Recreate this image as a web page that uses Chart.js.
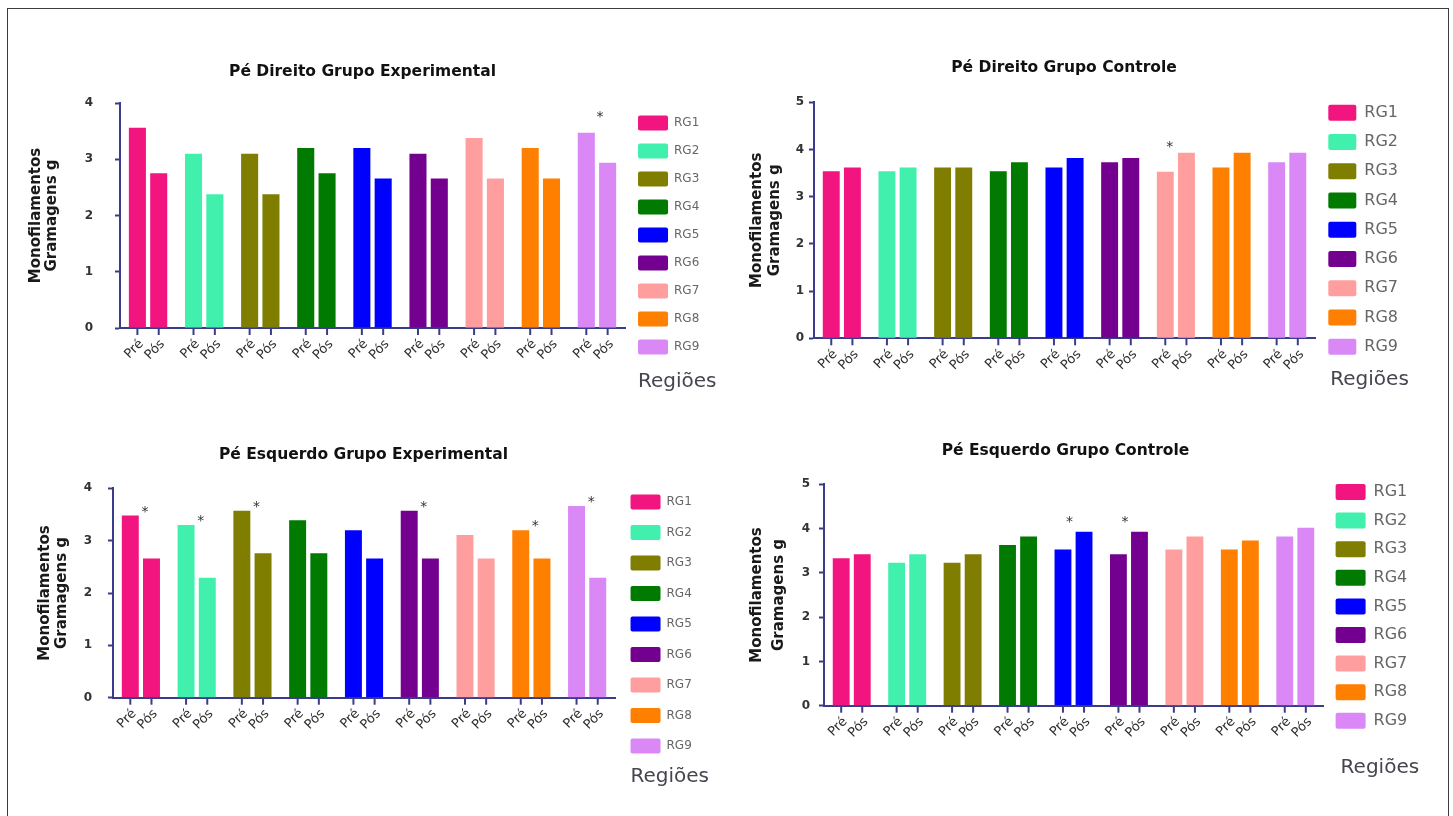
<!DOCTYPE html>
<html lang="pt">
<head>
<meta charset="utf-8">
<title>Monofilamentos por região</title>
<script src="https://cdn.jsdelivr.net/npm/chart.js@4.4.0/dist/chart.umd.min.js"></script>
<style>
  html, body { margin: 0; padding: 0; background: #fff; }
  body { width: 1453px; height: 816px; position: relative; overflow: hidden; }
  .moldura { position: absolute; left: 7px; top: 8px; width: 1442px; height: 830px; border: 1px solid #3c3c3c; box-sizing: border-box; }
  canvas { position: absolute; }
</style>
</head>
<body>
<div class="moldura"></div>
<canvas id="dirExp" width="710" height="350" style="left:15px;top:50px"></canvas>
<canvas id="dirCtrl" width="725" height="350" style="left:720px;top:50px"></canvas>
<canvas id="esqExp" width="700" height="370" style="left:25px;top:430px"></canvas>
<canvas id="esqCtrl" width="732" height="370" style="left:713px;top:430px"></canvas>
<script>
// categorias e rótulos
const regioes = ['RG1', 'RG2', 'RG3', 'RG4', 'RG5', 'RG6', 'RG7', 'RG8', 'RG9'];
const marcas = ['Pré', 'Pós'];
const tituloY = ['Monofilamentos', 'Gramagens g'];

// valores (gramas)
const dirExpPre  = [3.56, 3.10, 3.10, 3.20, 3.20, 3.10, 3.38, 3.20, 3.47];
const dirExpPos  = [2.75, 2.38, 2.38, 2.75, 2.66, 2.66, 2.66, 2.66, 2.94];
const dirCtrlPre = [3.54, 3.54, 3.62, 3.54, 3.62, 3.73, 3.53, 3.62, 3.73];
const dirCtrlPos = [3.62, 3.62, 3.62, 3.73, 3.82, 3.82, 3.93, 3.93, 3.93];
const esqExpPre  = [3.48, 3.30, 3.57, 3.39, 3.20, 3.57, 3.11, 3.20, 3.66];
const esqExpPos  = [2.66, 2.29, 2.76, 2.76, 2.66, 2.66, 2.66, 2.66, 2.29];
const esqCtrlPre = [3.33, 3.23, 3.23, 3.63, 3.53, 3.42, 3.53, 3.53, 3.82];
const esqCtrlPos = [3.42, 3.42, 3.42, 3.82, 3.93, 3.93, 3.82, 3.73, 4.02];

// regiões com diferença significativa (*)
const dirExpSig  = [8];
const dirCtrlSig = [6];
const esqExpSig  = [0, 1, 2, 5, 7, 8];
const esqCtrlSig = [4, 5];

const cores = ['#F2157F', '#42F0AE', '#807E00', '#007A00', '#0000FF', '#74008F', '#FF9E9E', '#FF7F00', '#DA88F6'];
const eixo = '#3A3C8A';

Chart.defaults.font.family = '"DejaVu Sans", sans-serif';

// traços e rótulos Pré/Pós sob cada barra, asteriscos e "Regiões"
const extras = {
    id: 'extras',
    afterDraw(chart, args, opts) {
        const ctx = chart.ctx;
        const xs = chart.scales.x;
        const pre = chart.getDatasetMeta(0).data;
        const pos = chart.getDatasetMeta(1).data;
        ctx.save();
        [pre, pos].forEach((barras, d) => {
            barras.forEach(b => {
                ctx.strokeStyle = eixo;
                ctx.lineWidth = 2;
                ctx.beginPath();
                ctx.moveTo(b.x, xs.top);
                ctx.lineTo(b.x, xs.top + 7);
                ctx.stroke();
                ctx.save();
                ctx.translate(b.x + 4, xs.top + 14);
                ctx.rotate(-Math.PI / 4);
                ctx.font = '13px "DejaVu Sans"';
                ctx.fillStyle = '#2e2e2e';
                ctx.textAlign = 'right';
                ctx.textBaseline = 'middle';
                ctx.fillText(marcas[d], 0, 0);
                ctx.restore();
            });
        });
        ctx.font = '14px "DejaVu Sans"';
        ctx.fillStyle = '#333';
        ctx.textAlign = 'center';
        ctx.textBaseline = 'alphabetic';
        opts.estrelas.forEach(i => {
            const x = (pre[i].x + pos[i].x) / 2 + opts.dxEstrela;
            ctx.fillText('*', x, Math.min(pre[i].y, pos[i].y) - opts.dyEstrela);
        });
        const caixas = chart.legend.legendHitBoxes;
        const ult = caixas[caixas.length - 1];
        ctx.font = opts.fonteRegioes + 'px "DejaVu Sans"';
        ctx.fillStyle = '#45454f';
        ctx.textAlign = 'left';
        ctx.textBaseline = 'middle';
        ctx.fillText('Regiões', ult.left + opts.dxRegioes, ult.top + ult.height / 2 + opts.dyRegioes);
        ctx.restore();
    }
};

function grafico(id, titulo, pre, pos, estrelas, yMax, c) {
    const serie = (nome, valores) => ({
        label: nome, data: valores, backgroundColor: cores, borderWidth: 0,
        categoryPercentage: 0.76, barPercentage: 0.8
    });
    return new Chart(document.getElementById(id), {
        type: 'bar',
        data: { labels: regioes, datasets: [serie(marcas[0], pre), serie(marcas[1], pos)] },
        options: {
            responsive: false, animation: false, events: [],
            layout: { padding: { left: c.padL, right: c.padR, top: 0, bottom: 0 } },
            plugins: {
                title: {
                    display: true, text: titulo, color: '#111',
                    font: { size: 15.5, weight: 'bold', lineHeight: 1.2 },
                    padding: { top: c.tTop, bottom: c.tBot }
                },
                legend: {
                    position: 'right', align: 'start',
                    // título vazio só para empurrar os itens para baixo
                    title: { display: true, text: '', font: { size: 1, lineHeight: 1 }, padding: { top: c.legTop - 1, bottom: 0 } },
                    labels: {
                        boxWidth: c.box[0], boxHeight: c.box[1], padding: c.legPad,
                        color: '#1f1f1f', font: { size: c.legFont },
                        useBorderRadius: true, borderRadius: 2,
                        generateLabels: () => regioes.map((r, i) => ({
                            text: r, fillStyle: cores[i], strokeStyle: cores[i], lineWidth: 0,
                            borderRadius: 2, hidden: false, index: i
                        }))
                    }
                },
                tooltip: { enabled: false },
                extras: {
                    estrelas, dxEstrela: c.dxEstrela, dyEstrela: c.dyEstrela,
                    fonteRegioes: c.regFont, dxRegioes: c.regDx, dyRegioes: c.regDy
                }
            },
            scales: {
                x: {
                    grid: { display: false },
                    border: { display: true, color: eixo, width: 2 },
                    ticks: { display: false },
                    afterFit: s => { s.height = c.xH; }
                },
                y: {
                    min: 0, max: yMax,
                    ticks: { stepSize: 1, color: '#333', font: { size: 12, weight: 'bold' }, padding: c.yTickPad },
                    grid: { drawOnChartArea: false, drawTicks: true, tickLength: 5, tickColor: eixo, tickWidth: 2 },
                    border: { display: true, color: eixo, width: 2 },
                    title: {
                        display: true, text: tituloY, color: '#1a1a1a',
                        font: { size: 15, weight: 'bold', lineHeight: c.yLh },
                        padding: { top: c.yTitPad, bottom: 0 }
                    },
                    afterFit: s => { s.width = c.yW; }
                }
            }
        },
        plugins: [extras]
    });
}

grafico('dirExp', 'Pé Direito Grupo Experimental', dirExpPre, dirExpPos, dirExpSig, 4,
    { padL: 0.7, padR: 15.7, yW: 104.3, yTitPad: 12, xH: 72, tTop: 12.7, tBot: 21.7, yLh: 1.1, yTickPad: 22,
      legPad: 13, legFont: 12, box: [30, 15], legTop: 52.5, regFont: 20, regDx: 0, regDy: 35,
      dxEstrela: 3, dyEstrela: 12 });

grafico('dirCtrl', 'Pé Direito Grupo Controle', dirCtrlPre, dirCtrlPos, dirCtrlSig, 5,
    { padL: 0, padR: 37, yW: 94, yTitPad: 28, xH: 61.7, tTop: 8.7, tBot: 25, yLh: 1.2, yTickPad: 5,
      legPad: 13.25, legFont: 16, box: [28, 16], legTop: 41.45, regFont: 20, regDx: 2, regDy: 33,
      dxEstrela: -6, dyEstrela: 2 });

grafico('esqExp', 'Pé Esquerdo Grupo Experimental', esqExpPre, esqExpPos, esqExpSig, 4,
    { padL: 0.2, padR: 23.2, yW: 87.8, yTitPad: 11.5, xH: 102.3, tTop: 15.7, tBot: 24, yLh: 1.11, yTickPad: 16,
      legPad: 15.5, legFont: 12, box: [30, 15], legTop: 49, regFont: 20, regDx: 0, regDy: 31,
      dxEstrela: 4, dyEstrela: 0 });

grafico('esqCtrl', 'Pé Esquerdo Grupo Controle', esqCtrlPre, esqCtrlPos, esqCtrlSig, 5,
    { padL: 0.7, padR: 27.7, yW: 110.3, yTitPad: 32.3, xH: 94.3, tTop: 11.7, tBot: 24, yLh: 1.45, yTickPad: 9,
      legPad: 12.6, legFont: 16, box: [30, 16], legTop: 41.4, regFont: 20, regDx: 5, regDy: 47,
      dxEstrela: -4, dyEstrela: 6 });
</script>
</body>
</html>
